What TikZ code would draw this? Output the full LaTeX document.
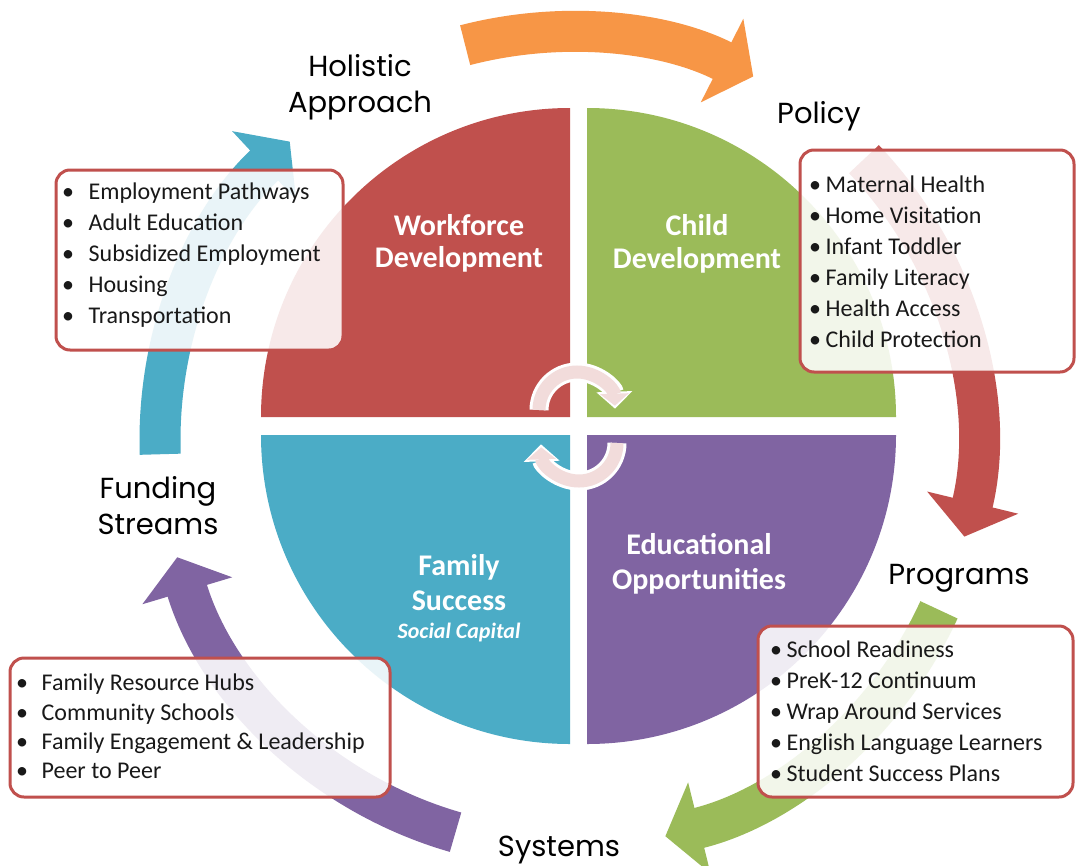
\documentclass[tikz,border=0pt]{standalone}
\usepackage{fontspec}
\setmainfont{Carlito}
\newfontfamily\headfont{Poppins}
\usetikzlibrary{arrows.meta}
\definecolor{wfred}{HTML}{C0504D}
\definecolor{cdgreen}{HTML}{9BBB59}
\definecolor{fsblue}{HTML}{4BACC6}
\definecolor{eopurple}{HTML}{8064A2}
\definecolor{haorange}{HTML}{F79646}
\definecolor{cyclepink}{HTML}{F2DCDB}

\begin{document}
\begin{tikzpicture}[x=1pt,y=-1pt,
  ringarrow/.style={line width=41pt, -{Triangle[length=35pt,width=92pt]}},
  itembox/.style={draw=wfred, line width=3pt, rounded corners=14pt, fill=white, fill opacity=0.88},
  items/.style={anchor=north west, align=left, inner sep=0pt, font=\fontsize{24}{31}\selectfont, text=black!90},
  quadlabel/.style={text=white, align=center, font=\bfseries\fontsize{30}{34}\selectfont},
  steplabel/.style={align=center, font=\headfont\fontsize{29}{36}\selectfont}]
\useasboundingbox[fill=white] (0,0) rectangle (1076,865);

%centres of the disc and of the outer ring
\coordinate (discc) at (578.5,426);
\coordinate (ringc) at (568,440);

%quarter discs
\fill[wfred] (570,417) -- ++(-309,0) arc (180:270:309) -- cycle;
\fill[cdgreen] (587,417) -- ++(0,-309) arc (270:360:309) -- cycle;
\fill[eopurple] (587,435) -- ++(309,0) arc (0:90:309) -- cycle;
\fill[fsblue] (570,435) -- ++(0,309) arc (90:180:309) -- cycle;

%outer ring of arrows
\draw[ringarrow, fsblue] (ringc) ++(-182:408) arc (-182:-133:408);
\draw[ringarrow, haorange] (ringc) ++(-104.6:408) arc (-104.6:-63:408);
\draw[ringarrow, wfred] (ringc) ++(-43.5:408) arc (-43.5:13.7:408);
\draw[ringarrow, cdgreen] (ringc) ++(24.6:408) arc (24.6:76.2:408);
\draw[ringarrow, eopurple] (ringc) ++(106:408) arc (106:163.3:408);

%small arrows in the middle
\coordinate (topc) at (577,410); \coordinate (botc) at (579,443);
\draw[white, line width=19pt, -{Triangle[length=17pt,width=35pt]}] (topc) ++(180:38) arc (180:358:38);
\draw[cyclepink, line width=13pt, shorten >=3pt, -{Triangle[length=12pt,width=28pt]}] (topc) ++(180:38) arc (180:358:38);
\draw[white, line width=19pt, -{Triangle[length=17pt,width=35pt]}] (botc) ++(0:38) arc (0:178:38);
\draw[cyclepink, line width=13pt, shorten >=3pt, -{Triangle[length=12pt,width=28pt]}] (botc) ++(0:38) arc (0:178:38);

%boxes
\draw[itembox] (56,170) rectangle (343,350);
\draw[itembox] (800,150) rectangle (1074,372);
\draw[itembox] (758,626) rectangle (1073,797);
\draw[itembox] (10,658) rectangle (390,797);

\node[items] (wfitems) at (62,183) {\textbullet\hspace{14.5pt}Employment Pathways\\
  \textbullet\hspace{14.5pt}Adult Education\\
  \textbullet\hspace{14.5pt}Subsidized Employment\\
  \textbullet\hspace{14.5pt}Housing\\
  \textbullet\hspace{14.5pt}Transportation};
\node[items] (cditems) at (809,176) {\textbullet\hspace{4.5pt}Maternal Health\\
  \textbullet\hspace{4.5pt}Home Visitation\\
  \textbullet\hspace{4.5pt}Infant Toddler\\
  \textbullet\hspace{4.5pt}Family Literacy\\
  \textbullet\hspace{4.5pt}Health Access\\
  \textbullet\hspace{4.5pt}Child Protection};
\node[items] (eoitems) at (770,641) {\textbullet\hspace{4.5pt}School Readiness\\
  \textbullet\hspace{4.5pt}PreK-12 Continuum\\
  \textbullet\hspace{4.5pt}Wrap Around Services\\
  \textbullet\hspace{4.5pt}English Language Learners\\
  \textbullet\hspace{4.5pt}Student Success Plans};
\node[items, font=\fontsize{24}{29.3}\selectfont] (fsitems) at (16,674) {\textbullet\hspace{13.5pt}Family Resource Hubs\\
  \textbullet\hspace{13.5pt}Community Schools\\
  \textbullet\hspace{13.5pt}Family Engagement \& Leadership\\
  \textbullet\hspace{13.5pt}Peer to Peer};

%quarter labels
\node[quadlabel, font=\bfseries\fontsize{30}{32}\selectfont] (workforce) at (459,243) {Workforce\\Development};
\node[quadlabel, font=\bfseries\fontsize{30}{33}\selectfont] (child) at (697,244) {Child\\Development};
\node[quadlabel, font=\bfseries\fontsize{30}{35}\selectfont] (educational) at (699,564) {Educational\\Opportunities};
\node[quadlabel, font=\bfseries\fontsize{30}{35}\selectfont] (family) at (459,598) {Family\\Success\\[-7pt]{\itshape\fontsize{22}{26}\selectfont Social Capital}};

%step labels round the ring
\node[steplabel] (holistic) at (360,87) {Holistic\\Approach};
\node[steplabel] (policy) at (819,116) {Policy};
\node[steplabel] (programs) at (959,578) {Programs};
\node[steplabel] (systems) at (559,850) {Systems};
\node[steplabel] (funding) at (158,506) {Funding\\Streams};
\end{tikzpicture}
\end{document}
